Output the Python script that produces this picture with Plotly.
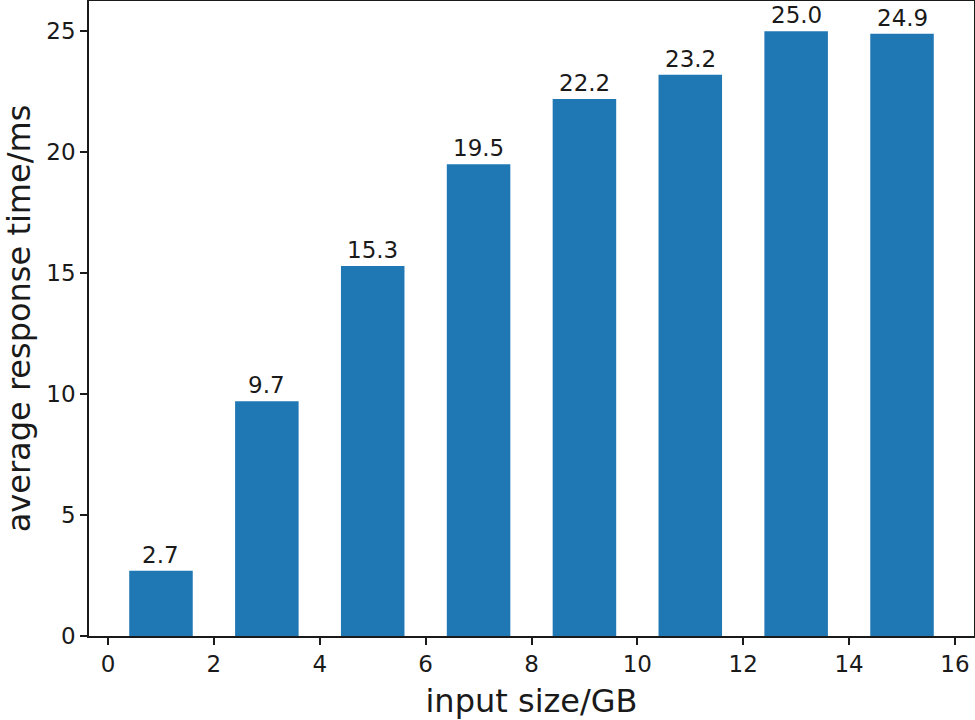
import plotly.graph_objs as go

# input sizes (GB) and measured average response time (ms)
input_size = [1, 3, 5, 7, 9, 11, 13, 15]
response_ms = [2.7, 9.7, 15.3, 19.5, 22.2, 23.2, 25.0, 24.9]
x_ticks = [0, 2, 4, 6, 8, 10, 12, 14, 16]
y_ticks = [0, 5, 10, 15, 20, 25]

font = "DejaVu Sans"
ink = "#1a1a1a"

fig = go.Figure()

fig.add_trace(go.Bar(
    x=input_size,
    y=response_ms,
    width=1.2,
    marker=dict(color="#1f77b4", line=dict(width=0)),
    showlegend=False,
))

# value labels on top of the bars
for xv, yv in zip(input_size, response_ms):
    fig.add_annotation(
        x=xv, y=yv,
        text=f"{yv:.1f}",
        showarrow=False,
        yanchor="bottom",
        yshift=1,
        font=dict(family=font, size=23, color=ink),
    )

fig.update_layout(
    width=975,
    height=720,
    margin=dict(l=89, r=1, t=1, b=84),
    plot_bgcolor="white",
    paper_bgcolor="white",
    font=dict(family=font, color=ink),
    xaxis=dict(
        title=dict(text="input size/GB", font=dict(size=32), standoff=15),
        automargin=False,
        range=[-0.36, 16.36],
        tickvals=x_ticks,
        tickfont=dict(size=23),
        showgrid=False,
        zeroline=False,
        showline=True,
        mirror=True,
        linecolor=ink,
        linewidth=1.5,
        ticks="outside",
        ticklen=7,
        tickwidth=1.5,
        tickcolor=ink,
    ),
    yaxis=dict(
        title=dict(text="average response time/ms", font=dict(size=32), standoff=19),
        automargin=False,
        range=[0, 26.25],
        tickvals=y_ticks,
        tickfont=dict(size=23),
        showgrid=False,
        zeroline=False,
        showline=True,
        mirror=True,
        linecolor=ink,
        linewidth=1.5,
        ticks="outside",
        ticklen=7,
        tickwidth=1.5,
        tickcolor=ink,
    ),
)

# drop the page's default body margin so the figure sits at the top-left corner
fig.write_html(
    "out.html",
    config={"displayModeBar": False},
    post_script="document.body.style.margin = '0';",
)
